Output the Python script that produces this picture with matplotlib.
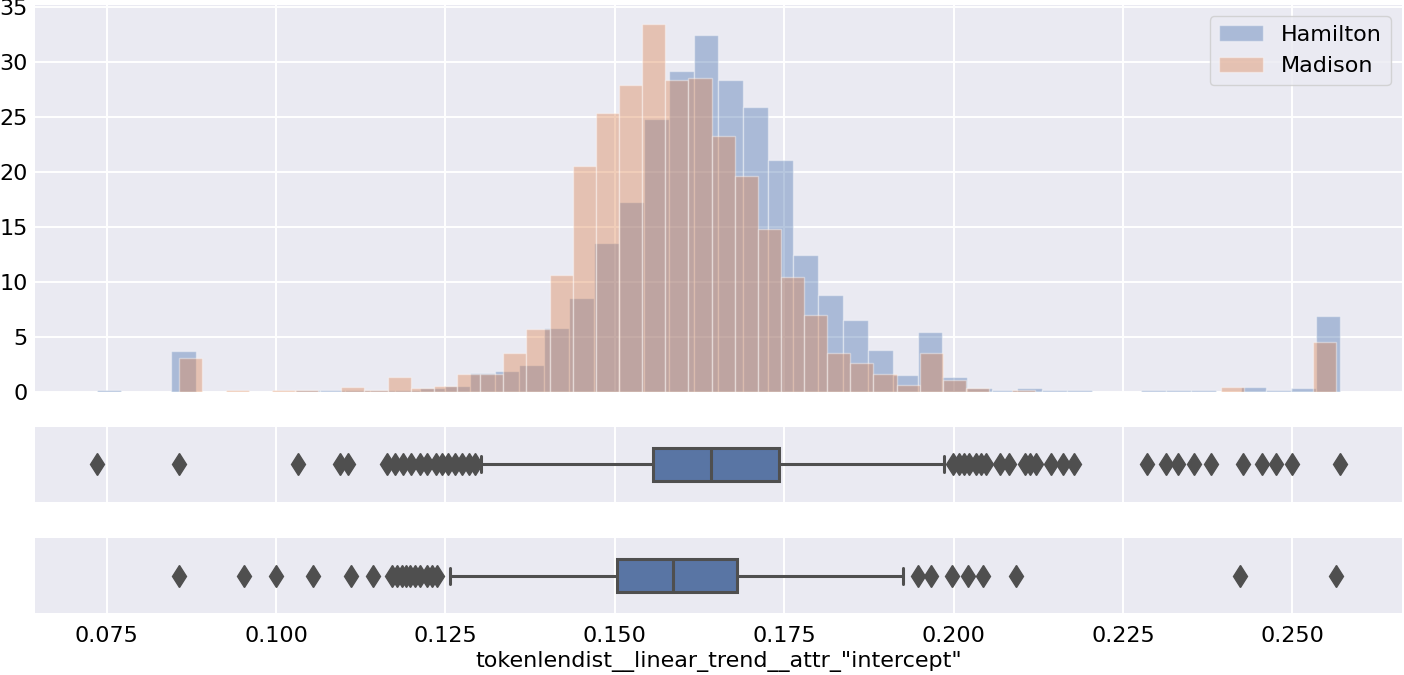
import numpy as np
import matplotlib
matplotlib.use("Agg")
import matplotlib.pyplot as plt
import seaborn as sns

# ---------------- data ----------------
series_names = ["Hamilton", "Madison"]

hamilton_range = (0.0735, 0.2571)   # min / max of Hamilton values (50 bins)
madison_range = (0.0857, 0.2565)    # min / max of Madison values (50 bins)

hamilton_density = [
    0.2, 0.0, 0.0, 3.7, 0.0, 0.0, 0.0, 0.0, 0.2, 0.2,
    0.2, 0.2, 0.2, 0.3, 0.55, 1.67, 1.9, 2.45, 5.76, 8.5,
    13.5, 17.3, 24.8, 29.2, 32.5, 28.4, 25.9, 21.1, 12.4, 8.8,
    6.5, 3.8, 1.5, 5.4, 1.3, 0.3, 0.2, 0.35, 0.15, 0.12,
    0.0, 0.0, 0.15, 0.15, 0.15, 0.0, 0.45, 0.15, 0.3, 6.9,
]
madison_density = [
    3.06, 0.0, 0.2, 0.0, 0.2, 0.2, 0.0, 0.4, 0.2, 1.3,
    0.3, 0.55, 1.6, 1.6, 3.5, 5.7, 10.6, 20.5, 25.4, 27.9,
    33.5, 28.4, 28.6, 23.3, 19.6, 14.8, 10.4, 7.0, 3.5, 2.6,
    1.6, 0.6, 3.5, 1.1, 0.35, 0.0, 0.2, 0.0, 0.0, 0.0,
    0.0, 0.0, 0.0, 0.0, 0.0, 0.4, 0.0, 0.0, 0.0, 4.5,
]

# box plot statistics (Hamilton on top, Madison below)
hamilton_box = dict(q1=0.1557, med=0.1642, q3=0.1742, whislo=0.1302, whishi=0.1986)
hamilton_fliers = [
    0.0735, 0.0857, 0.1033, 0.1095, 0.1106, 0.1164, 0.1176, 0.1187, 0.1199,
    0.1213, 0.1222, 0.1236, 0.1245, 0.1254, 0.1264, 0.1274, 0.1284, 0.1294,
    0.1999, 0.2008, 0.2015, 0.2023, 0.2033, 0.2040, 0.2048, 0.2069, 0.2082,
    0.2106, 0.2113, 0.2121, 0.2144, 0.2161, 0.2178, 0.2285, 0.2313, 0.2331,
    0.2355, 0.2380, 0.2427, 0.2456, 0.2476, 0.2499, 0.2571,
]
madison_box = dict(q1=0.1503, med=0.1586, q3=0.1680, whislo=0.1257, whishi=0.1926)
madison_fliers = [
    0.0857, 0.0952, 0.1000, 0.1055, 0.1111, 0.1143, 0.1171, 0.1179, 0.1186,
    0.1192, 0.1198, 0.1205, 0.1212, 0.1222, 0.1230, 0.1238,
    0.1948, 0.1967, 0.1998, 0.2022, 0.2044, 0.2092, 0.2423, 0.2565,
]

x_ticks = [0.075, 0.100, 0.125, 0.150, 0.175, 0.200, 0.225, 0.250]
y_ticks = [0, 5, 10, 15, 20, 25, 30, 35]
x_label = 'tokenlendist__linear_trend__attr_"intercept"'

# ---------------- style ----------------
sns.set_style("darkgrid")
plt.rcParams["font.family"] = ["DejaVu Sans"]
plt.rcParams["font.size"] = 16
for key in ("text.color", "axes.labelcolor", "xtick.color", "ytick.color"):
    plt.rcParams[key] = "black"

hist_colors = ["#4C72B0", "#DD8452"]
box_face = "#5975A4"
line_gray = "#4f4f4f"

fig = plt.figure(figsize=(14.04, 6.75), dpi=100)
left, width = 0.0249, 0.9737
ax_h = fig.add_axes([left, 0.4197, width, 0.5729])
ax_b1 = fig.add_axes([left, 0.2567, width, 0.1111], sharex=ax_h)
ax_b2 = fig.add_axes([left, 0.0914, width, 0.1111], sharex=ax_h)

for ax in (ax_h, ax_b1, ax_b2):
    ax.grid(True, color="white", linewidth=1.4)
    ax.set_axisbelow(True)
    for s in ax.spines.values():
        s.set_visible(False)
    ax.tick_params(length=0, labelsize=16, colors="black")

# histograms
for name, rng, dens, col in zip(series_names, [hamilton_range, madison_range],
                                [hamilton_density, madison_density], hist_colors):
    edges = np.linspace(rng[0], rng[1], len(dens) + 1)
    centers = 0.5 * (edges[:-1] + edges[1:])
    ax_h.hist(centers, bins=edges, weights=dens, color=col, alpha=0.4,
              edgecolor="white", linewidth=1.0, label=name)

ax_h.set_ylim(0, 35.2)
ax_h.set_yticks(y_ticks)
ax_h.tick_params(axis="x", labelbottom=False)
ax_h.tick_params(axis="y", pad=5)
leg = ax_h.legend(loc="upper right", fontsize=16, frameon=True,
                  borderaxespad=0.5)
for t in leg.get_texts():
    t.set_color("black")

# box plots
for ax, st, fl in [(ax_b1, hamilton_box, hamilton_fliers),
                   (ax_b2, madison_box, madison_fliers)]:
    stats = dict(st)
    stats["fliers"] = fl
    ax.bxp([stats], positions=[0], widths=0.44, vert=False, patch_artist=True,
           showfliers=True,
           boxprops=dict(facecolor=box_face, edgecolor=line_gray, linewidth=2.2),
           medianprops=dict(color=line_gray, linewidth=2.2),
           whiskerprops=dict(color=line_gray, linewidth=2.2),
           capprops=dict(color=line_gray, linewidth=2.2),
           flierprops=dict(marker="d", markerfacecolor=line_gray,
                           markeredgecolor=line_gray, markersize=11.5,
                           markeredgewidth=1, linestyle="none"))
    ax.set_ylim(-0.5, 0.5)
    ax.set_yticks([])
    ax.grid(True, axis="x", color="white", linewidth=1.4)

ax_b1.tick_params(axis="x", labelbottom=False)
ax_b2.set_xticks(x_ticks)
ax_b2.set_xticklabels([f"{t:.3f}" for t in x_ticks])
ax_b2.tick_params(axis="x", pad=9)
ax_b2.set_xlabel(x_label, fontsize=16, labelpad=4, color="black")
ax_h.set_xlim(0.0644, 0.2662)

fig.savefig("out.png", dpi=100)
